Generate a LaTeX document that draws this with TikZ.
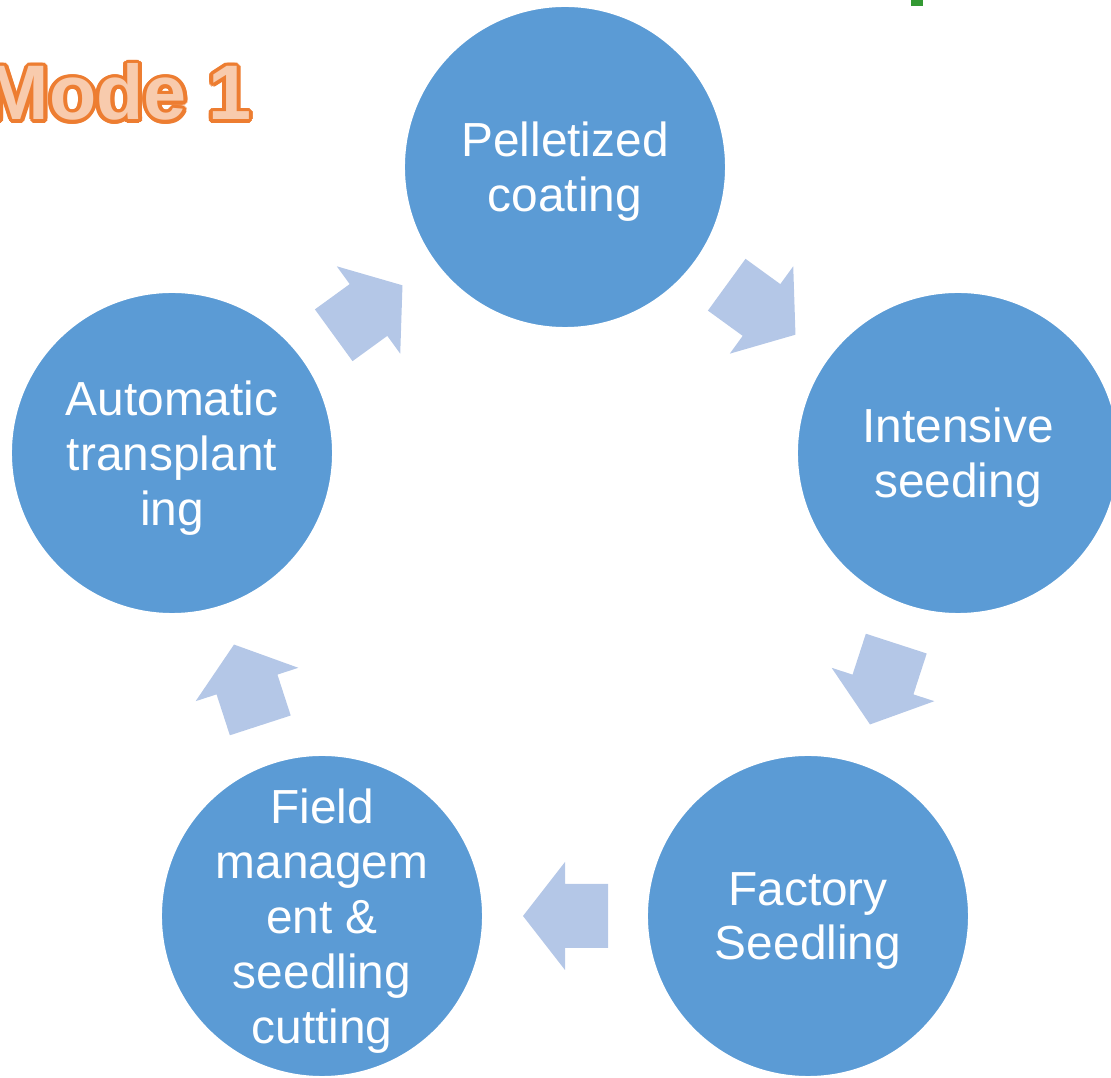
\documentclass[tikz,border=0pt]{standalone}
\usepackage{fontspec}
\setmainfont{Liberation Sans}
\usepackage{contour}
\contourlength{1.1pt}
\usetikzlibrary{calc}
\definecolor{cycBlue}{HTML}{5B9BD5}
\definecolor{cycPale}{HTML}{B4C7E7}
\definecolor{cycOrange}{HTML}{ED7D31}
\definecolor{cycPeach}{HTML}{F8CBAD}
\definecolor{cycGreen}{HTML}{339933}
\tikzset{
  stagetext/.style={align=center, text=white, inner sep=0pt, yshift=-0.05cm,
                    font=\fontsize{13.6}{15.6}\selectfont},
  stagecircle/.style={circle, fill=cycBlue, draw=white, line width=0.6pt, minimum size=3.22cm,
                      inner sep=0pt, label={[stagetext]center:#1}},
  modetitle/.style={inner sep=0pt, font=\fontsize{22}{26}\selectfont\bfseries},
  flowarrow/.pic={
    \fill[cycPale] (-43,-32) -- (0,-32) -- (0,-54) -- (42,0) -- (0,54) -- (0,32) -- (-43,32) -- cycle;
  }
}
\begin{document}
\begin{tikzpicture}[x=0.01cm, y=0.01cm]
\clip (0,0) rectangle (1111,1078);

\node[modetitle, anchor=base east] (mode) at (252,958)
  {\contour{cycOrange}{\textcolor{cycPeach}{Mode 1}}};
\fill[cycGreen] (911,1072) rectangle (923,1078);

% the five stages
\node[stagecircle={Pelletized\\coating}] (pellet)  at (565,911) {};
\node[stagecircle={Intensive\\seeding}]  (intense) at (958,625) {};
\node[stagecircle={Factory\\Seedling}]   (factory) at (808,162) {};
\node[stagecircle={Field\\managem\\ent \&\\seedling\\cutting}] (field) at (322,162) {};
\node[stagecircle={Automatic\\transplant\\ing}] (auto) at (172,625) {};

% arrows between stages
\foreach \src/\dst/\ang in {auto/pellet/36, pellet/intense/-36, intense/factory/-108,
                            factory/field/180, field/auto/108}
  \pic[rotate=\ang] at ($(\src)!0.5!(\dst)$) {flowarrow};

\end{tikzpicture}
\end{document}
